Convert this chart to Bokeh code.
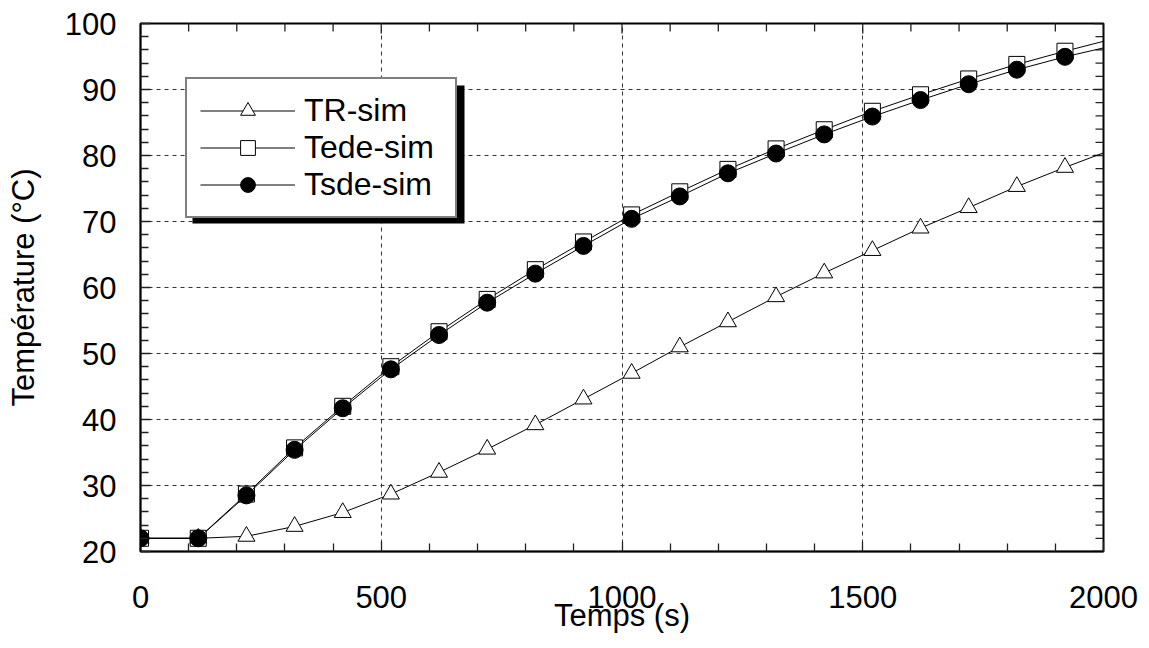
import math
from bokeh.plotting import figure
from bokeh.models import Range1d, FixedTicker, Legend, LegendItem, BoxAnnotation
from bokeh.embed import file_html
from bokeh.resources import INLINE

# Simulated temperatures (°C) versus time (s)
time_s = [0, 120, 220, 320, 420, 520, 620, 720, 820, 920, 1020, 1120, 1220,
          1320, 1420, 1520, 1620, 1720, 1820, 1920, 2000]
tr_sim = [22.0, 22.0, 22.3, 23.8, 25.9, 28.7, 32.0, 35.5, 39.2, 43.1, 47.0,
          51.0, 54.8, 58.6, 62.2, 65.6, 69.0, 72.1, 75.3, 78.2, 80.4]
tede_sim = [22.0, 22.0, 28.7, 35.7, 42.0, 48.0, 53.3, 58.2, 62.7, 66.9, 71.0,
            74.5, 77.9, 81.0, 83.9, 86.7, 89.2, 91.6, 93.8, 95.8, 97.3]
tsde_sim = [22.0, 22.0, 28.5, 35.4, 41.7, 47.6, 52.8, 57.7, 62.1, 66.3, 70.4,
            73.8, 77.3, 80.3, 83.2, 85.9, 88.4, 90.8, 93.0, 94.95, 96.3]

# axis ticks
x_ticks = [0, 500, 1000, 1500, 2000]
y_ticks = [20, 30, 40, 50, 60, 70, 80, 90, 100]
x_minor = [v for v in range(0, 2001, 100) if v not in x_ticks]
y_minor = [v for v in range(20, 101, 2) if v not in y_ticks]

# markers are drawn on every sample except the final end-of-run value
n_mark = len(time_s) - 1

FONT = "Liberation Sans"
FS = "31px"
TICK = "#222222"
X0, X1, Y0, Y1 = 0, 2000, 20, 100

p = figure(width=1149, height=648, output_backend="svg", toolbar_location=None,
           x_range=Range1d(X0, X1), y_range=Range1d(Y0, Y1),
           min_border_left=140, min_border_right=46,
           min_border_top=23, min_border_bottom=97)
p.outline_line_color = "black"
p.outline_line_width = 2

p.xaxis.ticker = FixedTicker(ticks=x_ticks, minor_ticks=x_minor)
p.yaxis.ticker = FixedTicker(ticks=y_ticks, minor_ticks=y_minor)
for ax in (p.xaxis[0], p.yaxis[0]):
    ax.major_tick_in = 10
    ax.major_tick_out = 0
    ax.minor_tick_in = 8
    ax.minor_tick_out = 0
    ax.major_tick_line_color = TICK
    ax.minor_tick_line_color = TICK
    ax.major_tick_line_width = 1.3
    ax.minor_tick_line_width = 1.3
    ax.axis_line_width = 1.5
    ax.major_label_text_font = FONT
    ax.major_label_text_font_size = FS
    ax.major_label_text_color = "black"
    ax.axis_label_text_font = FONT
    ax.axis_label_text_font_size = FS
    ax.axis_label_text_font_style = "normal"
    ax.axis_label_text_color = "black"

p.xaxis.axis_label = "Temps (s)"
p.xaxis.major_label_standoff = 34
p.xaxis.axis_label_standoff = -13
p.yaxis.axis_label = "Température (°C)"
p.yaxis.major_label_standoff = 24
p.yaxis.axis_label_standoff = 21

p.xgrid.ticker = FixedTicker(ticks=x_ticks)
p.ygrid.ticker = FixedTicker(ticks=y_ticks)
for g in (p.xgrid[0], p.ygrid[0]):
    g.grid_line_color = "#333333"
    g.grid_line_dash = "4 4"
    g.grid_line_width = 1

# inward tick marks along the top and right frame edges: dashes centred on
# the edge, whose outer half is clipped away by the frame
for ticks, sz in ((x_ticks, 20), (x_minor, 16)):
    p.scatter(ticks, [Y1] * len(ticks), marker="dash", size=sz,
              angle=math.pi / 2, line_color=TICK, line_width=1.3)
for ticks, sz in ((y_ticks, 20), (y_minor, 16)):
    p.scatter([X1] * len(ticks), ticks, marker="dash", size=sz,
              angle=0, line_color=TICK, line_width=1.3)

tx = time_s[:n_mark]

l1 = p.line(time_s, tr_sim, line_color="black", line_width=1)
m1 = p.scatter(tx, tr_sim[:n_mark], marker="triangle", size=17,
               fill_color="white", line_color="black", line_width=1)
l2 = p.line(time_s, tede_sim, line_color="black", line_width=1)
m2 = p.scatter(tx, tede_sim[:n_mark], marker="square", size=16,
               fill_color="white", line_color="black", line_width=1)
l3 = p.line(time_s, tsde_sim, line_color="black", line_width=1)
m3 = p.scatter(tx, tsde_sim[:n_mark], marker="circle", size=17,
               fill_color="black", line_color="black", line_width=1)

# drop shadow behind the legend box
shadow = BoxAnnotation(left=192, right=464, top=85, bottom=223,
                       left_units="canvas", right_units="canvas",
                       top_units="canvas", bottom_units="canvas",
                       fill_color="black", fill_alpha=1, line_color=None,
                       level="annotation")
p.add_layout(shadow)

legend = Legend(items=[LegendItem(label="TR-sim", renderers=[l1, m1]),
                       LegendItem(label="Tede-sim", renderers=[l2, m2]),
                       LegendItem(label="Tsde-sim", renderers=[l3, m3])],
                location=(45, 333), margin=0, padding=13, spacing=0,
                glyph_width=95, glyph_height=37, label_standoff=9,
                label_width=138, label_height=37, label_text_font=FONT,
                label_text_font_size="32px", label_text_color="black",
                border_line_color="black", border_line_width=2,
                background_fill_color="white", background_fill_alpha=1)
p.add_layout(legend)

open("out.html", "w").write(file_html(p, INLINE))
